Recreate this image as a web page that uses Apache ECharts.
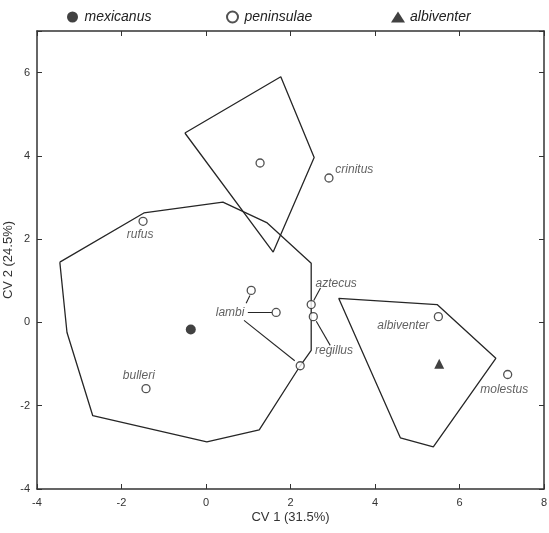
<!DOCTYPE html>
<html>
<head>
<meta charset="utf-8">
<script src="https://cdn.jsdelivr.net/npm/echarts@6/dist/echarts.min.js"></script>
<style>html,body{margin:0;padding:0;background:#fff}#c{width:549px;height:533px}</style>
</head>
<body>
<div id="c"></div>
<script>
// ---- data ----
const xTicks = [-4, -2, 0, 2, 4, 6, 8];
const yTicks = [-4, -2, 0, 2, 4, 6];
const mexicanusPts = [[-0.36, -0.17]];
const albiventerPts = [[5.52, -0.99]];
const peninsulaeX = [1.28, -1.49, 2.91, 1.07, 1.66, 2.49, 2.54, 2.23, -1.42, 5.50, 7.14];
const peninsulaeY = [3.83, 2.43, 3.47, 0.77, 0.24, 0.43, 0.14, -1.04, -1.59, 0.14, -1.25];
const hullBig = [[-3.46, 1.45], [-1.47, 2.63], [0.40, 2.89], [1.45, 2.39], [2.49, 1.42], [2.49, -0.67],
  [2.23, -1.04], [1.26, -2.58], [0.02, -2.87], [-2.68, -2.24], [-3.29, -0.24], [-3.46, 1.45]];
const hullTop = [[-0.50, 4.55], [1.77, 5.90], [2.56, 3.96], [1.59, 1.69], [-0.50, 4.55]];
const hullRight = [[3.14, 0.58], [5.47, 0.43], [6.86, -0.86], [5.38, -2.99], [4.60, -2.77], [3.14, 0.58]];
const labelNames = ['crinitus', 'rufus', 'aztecus', 'lambi', 'regillus', 'albiventer', 'molestus', 'bulleri'];
const labelX = [3.51, -1.56, 3.08, 0.57, 3.03, 4.67, 7.06, -1.59];
const labelY = [3.66, 2.10, 0.94, 0.24, -0.67, -0.07, -1.61, -1.28];
const leaders = [
  [[2.55, 0.53], [2.71, 0.83]],
  [[0.95, 0.46], [1.04, 0.65]],
  [[0.99, 0.24], [1.56, 0.24]],
  [[0.90, 0.05], [2.10, -0.92]],
  [[2.61, 0.03], [2.94, -0.55]]
];

const ink = '#262626';
const chart = echarts.init(document.getElementById('c'), null, {renderer: 'canvas'});
const font = 'Liberation Sans, Arial, sans-serif';

const polySeries = [hullBig, hullTop, hullRight].map((h, i) => ({
  name: 'hull' + i, type: 'line', data: h, showSymbol: false, symbol: 'none',
  lineStyle: {color: ink, width: 1.3}, silent: true, z: 1, animation: false
}));
const leaderSeries = leaders.map((l, i) => ({
  name: 'leader' + i, type: 'line', data: l, showSymbol: false, symbol: 'none',
  lineStyle: {color: ink, width: 1.1}, silent: true, z: 1, animation: false
}));

const axisCommon = {
  type: 'value', interval: 2, splitLine: {show: false},
  axisLine: {show: true, onZero: false, lineStyle: {color: '#333', width: 1.5}},
  axisTick: {show: true, inside: true, length: 5, lineStyle: {color: '#333', width: 1}}
};

const legendBase = {
  top: 5, itemWidth: 14, itemHeight: 11, itemGap: 0,
  textStyle: {fontFamily: font, fontStyle: 'italic', fontSize: 14, color: '#222'}
};

chart.setOption({
  animation: false,
  backgroundColor: '#fff',
  textStyle: {fontFamily: font},
  legend: [
    Object.assign({}, legendBase, {left: 62, data: ['mexicanus']}),
    Object.assign({}, legendBase, {left: 221, data: ['peninsulae']}),
    Object.assign({}, legendBase, {left: 386, data: ['albiventer']})
  ],
  grid: {left: 37, right: 5, top: 31, bottom: 44, containLabel: false, outerBoundsMode: 'none'},
  xAxis: [
    Object.assign({}, axisCommon, {
      min: xTicks[0], max: xTicks[xTicks.length - 1], position: 'bottom',
      axisLabel: {color: '#333', fontSize: 11, margin: 8, fontFamily: font},
      name: 'CV 1 (31.5%)', nameLocation: 'middle', nameGap: 22, nameMoveOverlap: false,
      nameTextStyle: {fontSize: 13, color: '#333', fontFamily: font}
    }),
    Object.assign({}, axisCommon, {
      min: xTicks[0], max: xTicks[xTicks.length - 1], position: 'top',
      axisLabel: {show: false}
    })
  ],
  yAxis: [
    Object.assign({}, axisCommon, {
      min: yTicks[0], max: 7, position: 'left',
      axisLabel: {color: '#333', fontSize: 11, margin: 7, fontFamily: font,
        formatter: v => (yTicks.indexOf(v) >= 0 ? String(v) : '')},
      name: 'CV 2 (24.5%)', nameLocation: 'middle', nameGap: 22, nameRotate: 90, nameMoveOverlap: false,
      nameTextStyle: {fontSize: 13, color: '#333', fontFamily: font}
    }),
    Object.assign({}, axisCommon, {
      min: yTicks[0], max: 7, position: 'right',
      axisLabel: {show: false}
    })
  ],
  series: [
    ...polySeries,
    ...leaderSeries,
    {
      name: 'mexicanus', type: 'scatter', data: mexicanusPts, symbol: 'circle', symbolSize: 10,
      itemStyle: {color: '#111'}, z: 3
    },
    {
      name: 'peninsulae', type: 'scatter',
      data: peninsulaeX.map((x, i) => [x, peninsulaeY[i]]),
      symbol: 'circle', symbolSize: 8,
      itemStyle: {color: '#fff', borderColor: ink, borderWidth: 1.3}, z: 3
    },
    {
      name: 'albiventer', type: 'scatter', data: albiventerPts, symbol: 'triangle', symbolSize: 10,
      itemStyle: {color: '#111'}, z: 3
    },
    {
      name: 'labels', type: 'scatter', symbolSize: 1, silent: true, z: 4,
      itemStyle: {color: 'rgba(0,0,0,0)'},
      data: labelNames.map((n, i) => ({name: n, value: [labelX[i], labelY[i]]})),
      label: {
        show: true, position: 'inside', formatter: p => p.name,
        fontFamily: font, fontStyle: 'italic', fontSize: 12, color: '#3a3a3a'
      }
    }
  ]
});
</script>
</body>
</html>
